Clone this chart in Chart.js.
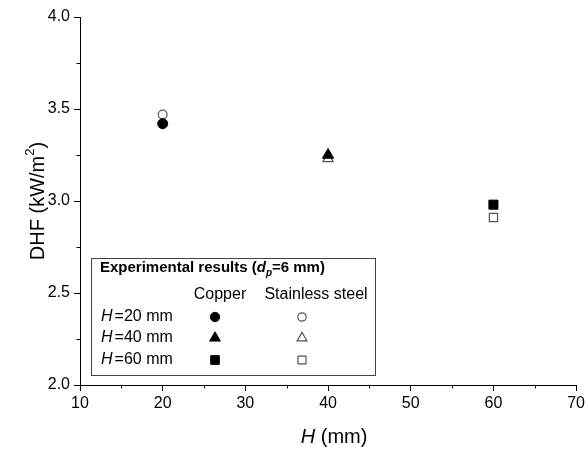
<!DOCTYPE html>
<html><head><meta charset="utf-8">
<script src="https://cdn.jsdelivr.net/npm/chart.js"></script>
<style>html,body{margin:0;padding:0;background:#fff}#wrap{width:588px;height:450px}</style>
</head><body><div id="wrap"><canvas id="c" width="588" height="450"></canvas></div>
<script>
const heights = [20, 40, 60];
const copperDHF = [3.42, 3.25, 2.98];
const stainlessDHF = [3.47, 3.23, 2.91];
const markerStyles = ['circle', 'triangle', 'rect'];
const markerRadii = [5, 6.5, 6.4];
const rowLabels = ['=20 mm', '=40 mm', '=60 mm'];
const xTickValues = [10, 20, 30, 40, 50, 60, 70];
const yTickValues = [2.0, 2.5, 3.0, 3.5, 4.0];
const xMinorTicks = [15, 25, 35, 45, 55, 65];
const yMinorTicks = [2.25, 2.75, 3.25, 3.75];

const FONT = '"Liberation Sans", Arial, sans-serif';
const OPEN_COLOR = '#555';

const datasets = [];
heights.forEach((h, i) => {
  datasets.push({
    label: 'Copper H=' + h,
    data: [{x: h, y: copperDHF[i]}],
    pointStyle: markerStyles[i],
    pointRadius: markerRadii[i],
    backgroundColor: '#000',
    borderColor: '#000',
    borderWidth: 1,
    showLine: false
  });
  datasets.push({
    label: 'Stainless H=' + h,
    data: [{x: h, y: stainlessDHF[i]}],
    pointStyle: markerStyles[i],
    pointRadius: markerRadii[i] - 0.6,
    backgroundColor: 'rgba(255,255,255,0)',
    borderColor: OPEN_COLOR,
    borderWidth: 1.2,
    showLine: false
  });
});

function drawMarker(ctx, style, r, x, y, filled) {
  ctx.save();
  ctx.beginPath();
  if (style === 'circle') {
    ctx.arc(x, y, r, 0, Math.PI * 2);
  } else if (style === 'triangle') {
    ctx.moveTo(x, y - r);
    ctx.lineTo(x + Math.cos(Math.PI / 6) * r, y + r / 2);
    ctx.lineTo(x - Math.cos(Math.PI / 6) * r, y + r / 2);
    ctx.closePath();
  } else {
    const s = Math.SQRT1_2 * r;
    ctx.rect(x - s, y - s, 2 * s, 2 * s);
  }
  if (filled) {
    ctx.fillStyle = '#000'; ctx.fill();
    ctx.strokeStyle = '#000'; ctx.lineWidth = 1; ctx.stroke();
  } else {
    ctx.strokeStyle = OPEN_COLOR; ctx.lineWidth = 1.2; ctx.stroke();
  }
  ctx.restore();
}

const deco = {
  id: 'deco',
  afterDraw(chart) {
    const ctx = chart.ctx, xs = chart.scales.x, ys = chart.scales.y;
    ctx.save();
    ctx.strokeStyle = '#000';
    ctx.lineWidth = 1;
    xMinorTicks.forEach(v => {
      const px = Math.round(xs.getPixelForValue(v)) + 0.5;
      ctx.beginPath(); ctx.moveTo(px, ys.bottom); ctx.lineTo(px, ys.bottom + 3.5); ctx.stroke();
    });
    yMinorTicks.forEach(v => {
      const py = Math.round(ys.getPixelForValue(v)) + 0.5;
      ctx.beginPath(); ctx.moveTo(xs.left, py); ctx.lineTo(xs.left - 3.5, py); ctx.stroke();
    });

    // axis titles
    ctx.fillStyle = '#000';
    ctx.textBaseline = 'middle';
    const xt1 = 'H', xt2 = ' (mm)';
    ctx.font = 'italic 20px ' + FONT;
    const w1 = ctx.measureText(xt1).width;
    ctx.font = '20px ' + FONT;
    const w2 = ctx.measureText(xt2).width;
    let sx = (xs.left + xs.right) / 2 + 6 - (w1 + w2) / 2;
    ctx.textAlign = 'left';
    ctx.font = 'italic 20px ' + FONT;
    ctx.fillText(xt1, sx, 437);
    ctx.font = '20px ' + FONT;
    ctx.fillText(xt2, sx + w1, 437);

    ctx.save();
    ctx.translate(38, (ys.top + ys.bottom) / 2);
    ctx.rotate(-Math.PI / 2);
    ctx.font = '20px ' + FONT;
    const ya = 'DHF (kW/m', yb = '2', yc = ')';
    const wa = ctx.measureText(ya).width;
    ctx.font = '13px ' + FONT;
    const wb = ctx.measureText(yb).width;
    ctx.font = '20px ' + FONT;
    const wc = ctx.measureText(yc).width;
    let tx = -(wa + wb + wc) / 2;
    ctx.fillText(ya, tx, 0);
    ctx.font = '13px ' + FONT;
    ctx.fillText(yb, tx + wa, -8);
    ctx.font = '20px ' + FONT;
    ctx.fillText(yc, tx + wa + wb, 0);
    ctx.restore();

    // legend box
    ctx.strokeStyle = '#444';
    ctx.lineWidth = 1;
    ctx.strokeRect(91.5, 258.5, 284, 117);

    let lx = 100;
    const ty = 268;
    const parts = [
      ['bold 15px ', 'Experimental results (', 0],
      ['italic bold 15px ', 'd', 0],
      ['italic bold 10px ', 'p', 5],
      ['bold 15px ', '=6 mm)', 0]
    ];
    parts.forEach(p => {
      ctx.font = p[0] + FONT;
      ctx.fillText(p[1], lx, ty + p[2]);
      lx += ctx.measureText(p[1]).width;
    });

    ctx.font = '16px ' + FONT;
    ctx.textAlign = 'center';
    ctx.fillText('Copper', 220, 295);
    ctx.fillText('Stainless steel', 316, 295);

    const rowY = [317, 338, 360];
    rowLabels.forEach((lab, i) => {
      ctx.textAlign = 'left';
      ctx.font = 'italic 16px ' + FONT;
      ctx.fillText('H', 101, rowY[i]);
      const wh = ctx.measureText('H').width;
      ctx.font = '16px ' + FONT;
      ctx.fillText(lab, 101 + wh + 2, rowY[i]);
      drawMarker(ctx, markerStyles[i], markerRadii[i] - 0.3, 215, rowY[i], true);
      drawMarker(ctx, markerStyles[i], markerRadii[i] - 0.8, 302, rowY[i], false);
    });
    ctx.restore();
  }
};

new Chart(document.getElementById('c'), {
  type: 'scatter',
  data: { datasets },
  options: {
    responsive: false,
    animation: false,
    devicePixelRatio: 1,
    layout: { padding: { left: 0, top: 17, right: 8, bottom: 0 } },
    plugins: { legend: { display: false }, tooltip: { enabled: false } },
    scales: {
      x: {
        type: 'linear',
        min: 10, max: 70,
        afterBuildTicks: s => { s.ticks = xTickValues.map(v => ({value: v})); },
        afterFit: s => { s.height = 65; },
        grid: { drawOnChartArea: false, drawTicks: true, tickLength: 6, color: '#000' },
        border: { display: true, color: '#000', width: 1 },
        ticks: { color: '#000', font: { family: FONT, size: 16 }, padding: 3, maxRotation: 0,
                 callback: v => String(v) },
        title: { display: false }
      },
      y: {
        type: 'linear',
        min: 2.0, max: 4.0,
        afterBuildTicks: s => { s.ticks = yTickValues.map(v => ({value: v})); },
        afterFit: s => { s.width = 80; },
        grid: { drawOnChartArea: false, drawTicks: true, tickLength: 6, color: '#000' },
        border: { display: true, color: '#000', width: 1 },
        ticks: { color: '#000', font: { family: FONT, size: 16 }, padding: 4,
                 callback: v => Number(v).toFixed(1) },
        title: { display: false }
      }
    }
  },
  plugins: [deco]
});
</script>
</body></html>
